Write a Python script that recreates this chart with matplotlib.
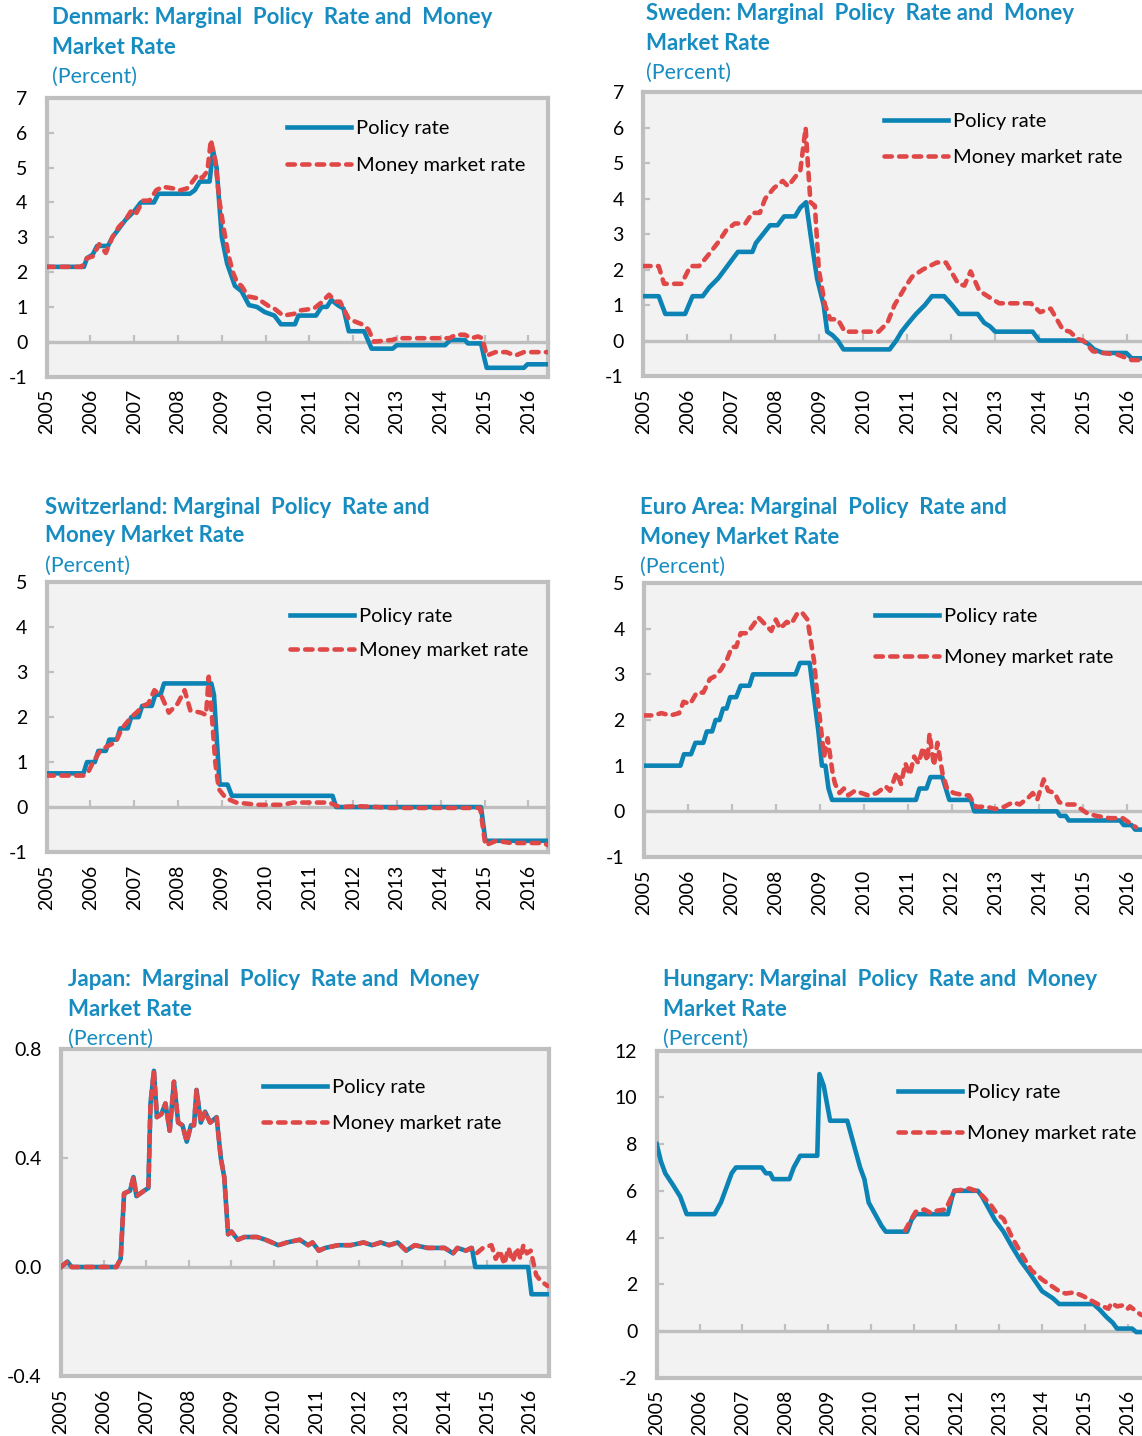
import matplotlib
matplotlib.use("Agg")
import matplotlib.pyplot as plt

plt.rcParams['font.family'] = ['Lato', 'DejaVu Sans']
plt.rcParams['axes.unicode_minus'] = False

years = list(range(2005, 2017))
year_labels = [str(y) for y in years]

# Denmark
dk_policy_t = [2005.0, 2005.85, 2005.92, 2006.05, 2006.15, 2006.4, 2006.5, 2006.65, 2006.8, 2007.0,
               2007.15, 2007.45, 2007.55, 2008.27, 2008.38, 2008.5, 2008.72, 2008.8, 2008.88, 2009.0,
               2009.12, 2009.3, 2009.45, 2009.62, 2009.8, 2009.98, 2010.2, 2010.35, 2010.67, 2010.75,
               2011.15, 2011.28, 2011.4, 2011.5, 2011.65, 2011.78, 2011.9, 2012.25, 2012.42, 2012.9,
               2013.0, 2014.1, 2014.22, 2014.55, 2014.62, 2014.92, 2015.0, 2015.05, 2015.9, 2015.98,
               2016.45]
dk_policy_v = [2.15, 2.15, 2.4, 2.5, 2.75, 2.75, 3.0, 3.25, 3.5, 3.75,
               4.0, 4.0, 4.25, 4.25, 4.35, 4.6, 4.6, 5.5, 5.0, 3.0,
               2.25, 1.6, 1.45, 1.05, 1.0, 0.85, 0.75, 0.5, 0.5, 0.75,
               0.75, 1.0, 1.0, 1.2, 1.05, 0.95, 0.3, 0.3, -0.2, -0.2,
               -0.1, -0.1, 0.05, 0.05, -0.05, -0.05, -0.5, -0.75, -0.75, -0.65,
               -0.65]
dk_mm_t = [2005.0, 2005.8, 2005.92, 2006.05, 2006.2, 2006.35, 2006.5, 2006.65, 2006.8, 2006.95,
           2007.05, 2007.2, 2007.35, 2007.5, 2007.65, 2007.9, 2008.05, 2008.2, 2008.3, 2008.45,
           2008.55, 2008.67, 2008.75, 2008.85, 2008.95, 2009.05, 2009.15, 2009.25, 2009.35, 2009.45,
           2009.6, 2009.8, 2010.1, 2010.2, 2010.4, 2010.65, 2010.8, 2011.1, 2011.25, 2011.45,
           2011.6, 2011.7, 2011.9, 2012.2, 2012.35, 2012.47, 2012.9, 2013.0, 2014.2, 2014.35,
           2014.55, 2014.7, 2014.85, 2014.95, 2015.05, 2015.25, 2015.5, 2015.7, 2015.9, 2016.45]
dk_mm_v = [2.15, 2.15, 2.4, 2.45, 2.8, 2.55, 3.0, 3.3, 3.5, 3.8,
           3.7, 4.05, 4.05, 4.35, 4.45, 4.4, 4.35, 4.4, 4.55, 4.8,
           4.7, 4.9, 5.8, 5.2, 4.0, 3.2, 2.5, 2.0, 1.7, 1.6,
           1.3, 1.25, 1.0, 0.95, 0.75, 0.8, 0.9, 0.95, 1.1, 1.35,
           1.15, 1.15, 0.65, 0.5, 0.35, 0.0, 0.05, 0.1, 0.1, 0.2,
           0.2, 0.1, 0.15, 0.1, -0.4, -0.3, -0.3, -0.4, -0.3, -0.3]

# Sweden
se_policy_t = [2005.0, 2005.35, 2005.5, 2005.95, 2006.12, 2006.35, 2006.5, 2006.7, 2006.85, 2007.0,
               2007.15, 2007.48, 2007.56, 2007.72, 2007.88, 2008.05, 2008.2, 2008.45, 2008.57, 2008.7,
               2008.8, 2008.95, 2009.1, 2009.18, 2009.3, 2009.42, 2009.55, 2010.6, 2010.75, 2010.87,
               2011.03, 2011.2, 2011.4, 2011.56, 2011.84, 2012.02, 2012.18, 2012.6, 2012.75, 2012.88,
               2013.0, 2013.85, 2014.0, 2014.98, 2015.12, 2015.25, 2015.45, 2015.98, 2016.1, 2016.45]
se_policy_v = [1.25, 1.25, 0.75, 0.75, 1.25, 1.25, 1.5, 1.75, 2.0, 2.25,
               2.5, 2.5, 2.75, 3.0, 3.25, 3.25, 3.5, 3.5, 3.75, 3.9,
               3.0, 1.75, 1.0, 0.25, 0.15, 0.0, -0.25, -0.25, 0.0, 0.25,
               0.5, 0.75, 1.0, 1.25, 1.25, 1.0, 0.75, 0.75, 0.5, 0.4,
               0.25, 0.25, 0.0, 0.0, -0.1, -0.25, -0.35, -0.35, -0.5, -0.5]
se_mm_t = [2005.0, 2005.35, 2005.47, 2005.87, 2006.07, 2006.27, 2006.47, 2006.72, 2006.88, 2007.08,
           2007.32, 2007.48, 2007.65, 2007.77, 2007.97, 2008.17, 2008.29, 2008.57, 2008.69, 2008.74,
           2008.8, 2008.9, 2008.99, 2009.13, 2009.25, 2009.42, 2009.58, 2010.35, 2010.55, 2010.71,
           2010.95, 2011.11, 2011.35, 2011.67, 2011.88, 2012.16, 2012.3, 2012.44, 2012.64, 2012.89,
           2013.09, 2013.81, 2014.02, 2014.26, 2014.54, 2014.7, 2014.86, 2015.0, 2015.22, 2015.46,
           2015.79, 2016.1, 2016.45]
se_mm_v = [2.1, 2.1, 1.6, 1.6, 2.1, 2.1, 2.4, 2.8, 3.1, 3.3,
           3.3, 3.6, 3.6, 4.0, 4.3, 4.5, 4.35, 4.8, 6.0, 5.0,
           3.9, 3.8, 2.0, 1.0, 0.6, 0.6, 0.25, 0.25, 0.5, 1.0,
           1.5, 1.8, 2.0, 2.2, 2.2, 1.6, 1.55, 1.95, 1.4, 1.2,
           1.05, 1.05, 0.8, 0.9, 0.3, 0.25, 0.05, 0.0, -0.3, -0.35,
           -0.4, -0.55, -0.55]

# Switzerland
ch_policy_t = [2005.0, 2005.84, 2005.92, 2006.1, 2006.18, 2006.35, 2006.43, 2006.6, 2006.68, 2006.85,
               2006.93, 2007.1, 2007.18, 2007.4, 2007.48, 2007.6, 2007.68, 2008.76, 2008.82, 2008.95,
               2009.13, 2009.23, 2011.53, 2011.61, 2014.92, 2015.02, 2016.45]
ch_policy_v = [0.75, 0.75, 1.0, 1.0, 1.25, 1.25, 1.5, 1.5, 1.75, 1.75,
               2.0, 2.0, 2.25, 2.25, 2.5, 2.5, 2.75, 2.75, 2.5, 0.5,
               0.5, 0.25, 0.25, 0.0, 0.0, -0.75, -0.75]
ch_mm_t = [2005.0, 2005.84, 2005.96, 2006.06, 2006.22, 2006.38, 2006.58, 2006.72, 2006.93, 2007.05,
           2007.2, 2007.32, 2007.46, 2007.63, 2007.79, 2007.99, 2008.15, 2008.28, 2008.52, 2008.64,
           2008.7, 2008.76, 2008.85, 2008.93, 2009.09, 2009.33, 2009.82, 2010.39, 2010.63, 2011.45,
           2011.57, 2011.69, 2012.1, 2012.55, 2012.85, 2014.9, 2015.02, 2015.27, 2015.6, 2016.35,
           2016.45]
ch_mm_v = [0.7, 0.7, 0.8, 1.0, 1.25, 1.35, 1.45, 1.75, 2.0, 2.1,
           2.25, 2.3, 2.6, 2.45, 2.1, 2.3, 2.6, 2.15, 2.1, 2.05,
           2.9, 2.2, 1.0, 0.4, 0.2, 0.1, 0.05, 0.05, 0.1, 0.1,
           0.05, 0.0, 0.02, 0.0, -0.02, -0.02, -0.85, -0.75, -0.8, -0.8,
           -0.85]

# Euro Area
ea_policy_t = [2005.0, 2005.83, 2005.91, 2006.07, 2006.17, 2006.35, 2006.43, 2006.55, 2006.63, 2006.72,
               2006.8, 2006.88, 2006.96, 2007.1, 2007.2, 2007.4, 2007.48, 2008.45, 2008.55, 2008.77,
               2008.97, 2009.05, 2009.13, 2009.2, 2009.28, 2011.19, 2011.27, 2011.43, 2011.52, 2011.79,
               2011.87, 2011.95, 2012.44, 2012.52, 2014.4, 2014.47, 2014.6, 2014.67, 2015.84, 2015.92,
               2016.1, 2016.18, 2016.45]
ea_policy_v = [1.0, 1.0, 1.25, 1.25, 1.5, 1.5, 1.75, 1.75, 2.0, 2.0,
               2.25, 2.25, 2.5, 2.5, 2.75, 2.75, 3.0, 3.0, 3.25, 3.25,
               1.75, 1.0, 1.0, 0.5, 0.25, 0.25, 0.5, 0.5, 0.75, 0.75,
               0.5, 0.25, 0.25, 0.0, 0.0, -0.1, -0.1, -0.2, -0.2, -0.3,
               -0.3, -0.4, -0.4]
ea_mm_t = [2005.0, 2005.2, 2005.4, 2005.6, 2005.8, 2005.9, 2006.05, 2006.2, 2006.35, 2006.5,
           2006.6, 2006.75, 2006.9, 2007.0, 2007.1, 2007.2, 2007.35, 2007.5, 2007.6, 2007.75,
           2007.9, 2008.0, 2008.1, 2008.25, 2008.35, 2008.5, 2008.6, 2008.72, 2008.87, 2008.95,
           2009.03, 2009.1, 2009.18, 2009.3, 2009.35, 2009.45, 2009.55, 2009.65, 2009.8, 2010.1,
           2010.3, 2010.5, 2010.6, 2010.75, 2010.85, 2010.95, 2011.05, 2011.15, 2011.25, 2011.35,
           2011.45, 2011.5, 2011.6, 2011.68, 2011.8, 2011.9, 2012.05, 2012.3, 2012.4, 2012.55,
           2012.8, 2013.0, 2013.2, 2013.4, 2013.55, 2013.75, 2013.85, 2013.95, 2014.1, 2014.2,
           2014.35, 2014.45, 2014.6, 2014.8, 2014.95, 2015.1, 2015.3, 2015.6, 2015.9, 2016.05,
           2016.2]
ea_mm_v = [2.1, 2.1, 2.15, 2.1, 2.15, 2.4, 2.35, 2.6, 2.6, 2.9,
           2.95, 3.1, 3.35, 3.6, 3.6, 3.9, 3.9, 4.1, 4.25, 4.1,
           3.95, 4.2, 4.0, 4.15, 4.1, 4.35, 4.35, 4.2, 3.3, 2.5,
           1.8, 1.2, 1.6, 0.8, 0.6, 0.4, 0.5, 0.35, 0.45, 0.35,
           0.4, 0.55, 0.45, 0.85, 0.6, 1.05, 0.8, 1.2, 1.05, 1.4,
           1.1, 1.7, 1.0, 1.5, 0.8, 0.5, 0.4, 0.35, 0.35, 0.1,
           0.1, 0.05, 0.1, 0.2, 0.15, 0.3, 0.4, 0.25, 0.7, 0.45,
           0.4, 0.2, 0.15, 0.15, 0.05, -0.05, -0.1, -0.15, -0.15, -0.25,
           -0.35]

# Japan
jp_policy_t = [2005.0, 2005.15, 2005.25, 2006.3, 2006.4, 2006.48, 2006.62, 2006.7, 2006.77, 2006.95,
               2007.05, 2007.1, 2007.18, 2007.25, 2007.35, 2007.45, 2007.55, 2007.65, 2007.75, 2007.85,
               2007.95, 2008.05, 2008.12, 2008.18, 2008.28, 2008.38, 2008.5, 2008.65, 2008.75, 2008.83,
               2008.92, 2009.0, 2009.15, 2009.3, 2009.6, 2009.8, 2010.1, 2010.3, 2010.6, 2010.8,
               2010.9, 2011.05, 2011.2, 2011.5, 2011.8, 2012.1, 2012.3, 2012.5, 2012.7, 2012.9,
               2013.1, 2013.3, 2013.6, 2014.0, 2014.2, 2014.3, 2014.5, 2014.64, 2014.72, 2015.96,
               2016.04, 2016.45]
jp_policy_v = [0.0, 0.02, 0.0, 0.0, 0.03, 0.27, 0.28, 0.33, 0.26, 0.28,
               0.29, 0.6, 0.72, 0.55, 0.56, 0.6, 0.5, 0.68, 0.53, 0.52,
               0.46, 0.52, 0.52, 0.65, 0.53, 0.57, 0.53, 0.55, 0.4, 0.33,
               0.12, 0.13, 0.1, 0.11, 0.11, 0.1, 0.08, 0.09, 0.1, 0.08,
               0.09, 0.06, 0.07, 0.08, 0.08, 0.09, 0.08, 0.09, 0.08, 0.09,
               0.06, 0.08, 0.07, 0.07, 0.05, 0.07, 0.06, 0.07, 0.0, 0.0,
               -0.1, -0.1]
jp_mm_t = [2005.0, 2005.15, 2005.25, 2006.3, 2006.4, 2006.48, 2006.62, 2006.7, 2006.77, 2006.95,
           2007.05, 2007.1, 2007.18, 2007.25, 2007.35, 2007.45, 2007.55, 2007.65, 2007.75, 2007.85,
           2007.95, 2008.05, 2008.12, 2008.18, 2008.28, 2008.38, 2008.5, 2008.65, 2008.75, 2008.83,
           2008.92, 2009.0, 2009.15, 2009.3, 2009.6, 2009.8, 2010.1, 2010.3, 2010.6, 2010.8,
           2010.9, 2011.05, 2011.2, 2011.5, 2011.8, 2012.1, 2012.3, 2012.5, 2012.7, 2012.9,
           2013.1, 2013.3, 2013.6, 2014.0, 2014.2, 2014.3, 2014.5, 2014.62, 2014.75, 2014.9,
           2015.1, 2015.2, 2015.3, 2015.4, 2015.5, 2015.6, 2015.7, 2015.78, 2015.85, 2015.93,
           2016.02, 2016.15, 2016.25, 2016.42]
jp_mm_v = [0.0, 0.02, 0.0, 0.0, 0.03, 0.27, 0.28, 0.33, 0.26, 0.28,
           0.29, 0.6, 0.72, 0.55, 0.56, 0.6, 0.5, 0.68, 0.53, 0.52,
           0.46, 0.52, 0.52, 0.65, 0.53, 0.57, 0.53, 0.55, 0.4, 0.33,
           0.12, 0.13, 0.1, 0.11, 0.11, 0.1, 0.08, 0.09, 0.1, 0.08,
           0.09, 0.06, 0.07, 0.08, 0.08, 0.09, 0.08, 0.09, 0.08, 0.09,
           0.06, 0.08, 0.07, 0.07, 0.05, 0.07, 0.06, 0.07, 0.05, 0.07,
           0.08, 0.03, 0.06, 0.01, 0.07, 0.02, 0.07, 0.03, 0.08, 0.05,
           0.06, -0.03, -0.05, -0.07]

# Hungary
hu_policy_t = [2005.0, 2005.1, 2005.2, 2005.38, 2005.55, 2005.7, 2006.35, 2006.5, 2006.65, 2006.75,
               2006.85, 2007.45, 2007.55, 2007.65, 2007.72, 2008.1, 2008.2, 2008.35, 2008.75, 2008.8,
               2008.9, 2009.0, 2009.05, 2009.45, 2009.6, 2009.75, 2009.85, 2009.95, 2010.1, 2010.25,
               2010.35, 2010.85, 2010.95, 2011.05, 2011.8, 2011.9, 2011.95, 2012.5, 2012.6, 2012.75,
               2012.9, 2013.1, 2013.3, 2013.5, 2013.7, 2013.85, 2014.0, 2014.25, 2014.4, 2015.2,
               2015.35, 2015.5, 2015.65, 2015.75, 2016.1, 2016.2, 2016.45]
hu_policy_v = [8.0, 7.25, 6.75, 6.25, 5.75, 5.0, 5.0, 5.5, 6.25, 6.75,
               7.0, 7.0, 6.75, 6.75, 6.5, 6.5, 7.0, 7.5, 7.5, 11.0,
               10.5, 9.5, 9.0, 9.0, 8.0, 7.0, 6.5, 5.5, 5.0, 4.5,
               4.25, 4.25, 4.75, 5.0, 5.0, 5.75, 6.0, 6.0, 5.75, 5.25,
               4.75, 4.25, 3.6, 3.0, 2.5, 2.1, 1.7, 1.4, 1.15, 1.15,
               0.9, 0.6, 0.35, 0.1, 0.1, -0.05, -0.05]
hu_mm_t = [2010.8, 2010.95, 2011.05, 2011.25, 2011.4, 2011.55, 2011.75, 2011.95, 2012.15, 2012.3,
           2012.45, 2012.6, 2012.8, 2012.95, 2013.1, 2013.3, 2013.55, 2013.75, 2014.0, 2014.2,
           2014.4, 2014.55, 2014.75, 2014.95, 2015.15, 2015.35, 2015.55, 2015.62, 2015.75, 2015.9,
           2016.0, 2016.05, 2016.3, 2016.45]
hu_mm_v = [4.3, 4.8, 5.1, 5.2, 5.05, 5.15, 5.2, 6.0, 6.05, 6.1,
           6.0, 5.8, 5.4, 5.0, 4.8, 4.0, 3.2, 2.6, 2.2, 1.95,
           1.7, 1.6, 1.65, 1.5, 1.3, 1.1, 0.95, 1.2, 1.05, 1.1,
           0.95, 1.05, 0.7, 0.6]

W, H = 1142, 1436
BG = '#F2F2F2'
FRAME = '#BFBFBF'
BLUE = '#0B83B4'
RED = '#E04848'
TITLE = '#178CC0'

fig = plt.figure(figsize=(W / 100, H / 100), dpi=100)


def panel(box, ylim, yticks, ylabels, pol_t, pol_v, mm_t, mm_v, title, title_xy, leg_xy, leg_gap):
    left, top, right, bottom = box
    ax = fig.add_axes([left / W, 1 - bottom / H, (right - left) / W, (bottom - top) / H])
    ax.set_facecolor(BG)
    ax.plot(pol_t, pol_v, color=BLUE, lw=3.3, label='Policy rate', zorder=3)
    ax.plot(mm_t, mm_v, color=RED, lw=3.3, dashes=(1.6, 1.6), dash_capstyle='round',
            label='Money market rate', zorder=4)
    ax.set_xlim(2005, 2016.45)
    ax.set_ylim(*ylim)
    for s in ax.spines.values():
        s.set_color(FRAME)
        s.set_linewidth(3)

    ax.set_xticks(years)
    ax.set_xticklabels(year_labels, rotation=90, fontsize=14)
    ax.tick_params(axis='x', length=0, pad=9)
    ax.set_yticks(yticks)
    ax.set_yticklabels(ylabels, fontsize=14)
    ax.tick_params(axis='y', direction='in', length=5, width=1.6, color=FRAME, pad=14)

    # zero line carrying the year tick marks
    zero = (0 - ylim[0]) / (ylim[1] - ylim[0])
    sec = ax.secondary_xaxis(zero)
    sec.set_xticks(years)
    sec.tick_params(direction='in', length=5, width=1.6, color=FRAME, labelbottom=False)
    sec.spines['bottom'].set_color(FRAME)
    sec.spines['bottom'].set_linewidth(2.4)

    lx, ly = leg_xy
    ax.legend(loc='upper left',
              bbox_to_anchor=((lx - left) / (right - left), 1 - (ly - top) / (bottom - top)),
              frameon=False, fontsize=14.5, handlelength=3.2, handletextpad=0.25,
              labelspacing=leg_gap, borderpad=0, borderaxespad=0)

    tx, ty = title_xy
    for i, line in enumerate(title):
        fig.text(tx / W, 1 - (ty + 29 * i) / H, line, fontsize=16, fontweight='bold',
                 color=TITLE, ha='left', va='center')
    fig.text(tx / W, 1 - (ty + 59) / H, '(Percent)', fontsize=15.5, color=TITLE,
             ha='left', va='center')
    return ax


panel((46.7, 98, 548, 376.5), (-1, 7), range(-1, 8), [str(v) for v in range(-1, 8)],
      dk_policy_t, dk_policy_v, dk_mm_t, dk_mm_v,
      ['Denmark: Marginal  Policy  Rate and  Money', 'Market Rate'], (52, 18), (287, 120), 1.0)

panel((643.3, 92.3, 1147, 376), (-1, 7), range(-1, 8), [str(v) for v in range(-1, 8)],
      se_policy_t, se_policy_v, se_mm_t, se_mm_v,
      ['Sweden: Marginal  Policy  Rate and  Money', 'Market Rate'], (646, 14), (884, 113), 0.95)

panel((46.7, 582.3, 548, 852), (-1, 5), range(-1, 6), [str(v) for v in range(-1, 6)],
      ch_policy_t, ch_policy_v, ch_mm_t, ch_mm_v,
      ['Switzerland: Marginal  Policy  Rate and', 'Money Market Rate'], (45, 507), (290, 608), 0.82)

panel((644, 583, 1147, 857), (-1, 5), range(-1, 6), [str(v) for v in range(-1, 6)],
      ea_policy_t, ea_policy_v, ea_mm_t, ea_mm_v,
      ['Euro Area: Marginal  Policy  Rate and', 'Money Market Rate'], (640, 508), (875, 608), 1.2)

panel((61, 1049, 549, 1376), (-0.4, 0.8), [-0.4, 0.0, 0.4, 0.8], ['-0.4', '0.0', '0.4', '0.8'],
      jp_policy_t, jp_policy_v, jp_mm_t, jp_mm_v,
      ['Japan:  Marginal  Policy  Rate and  Money', 'Market Rate'], (68, 980), (263, 1079), 0.95)

panel((656.7, 1050.7, 1147, 1377.6), (-2, 12), range(-2, 13, 2), [str(v) for v in range(-2, 13, 2)],
      hu_policy_t, hu_policy_v, hu_mm_t, hu_mm_v,
      ['Hungary: Marginal  Policy  Rate and  Money', 'Market Rate'], (663, 980), (898, 1084), 1.2)

fig.savefig('out.png', dpi=100)
